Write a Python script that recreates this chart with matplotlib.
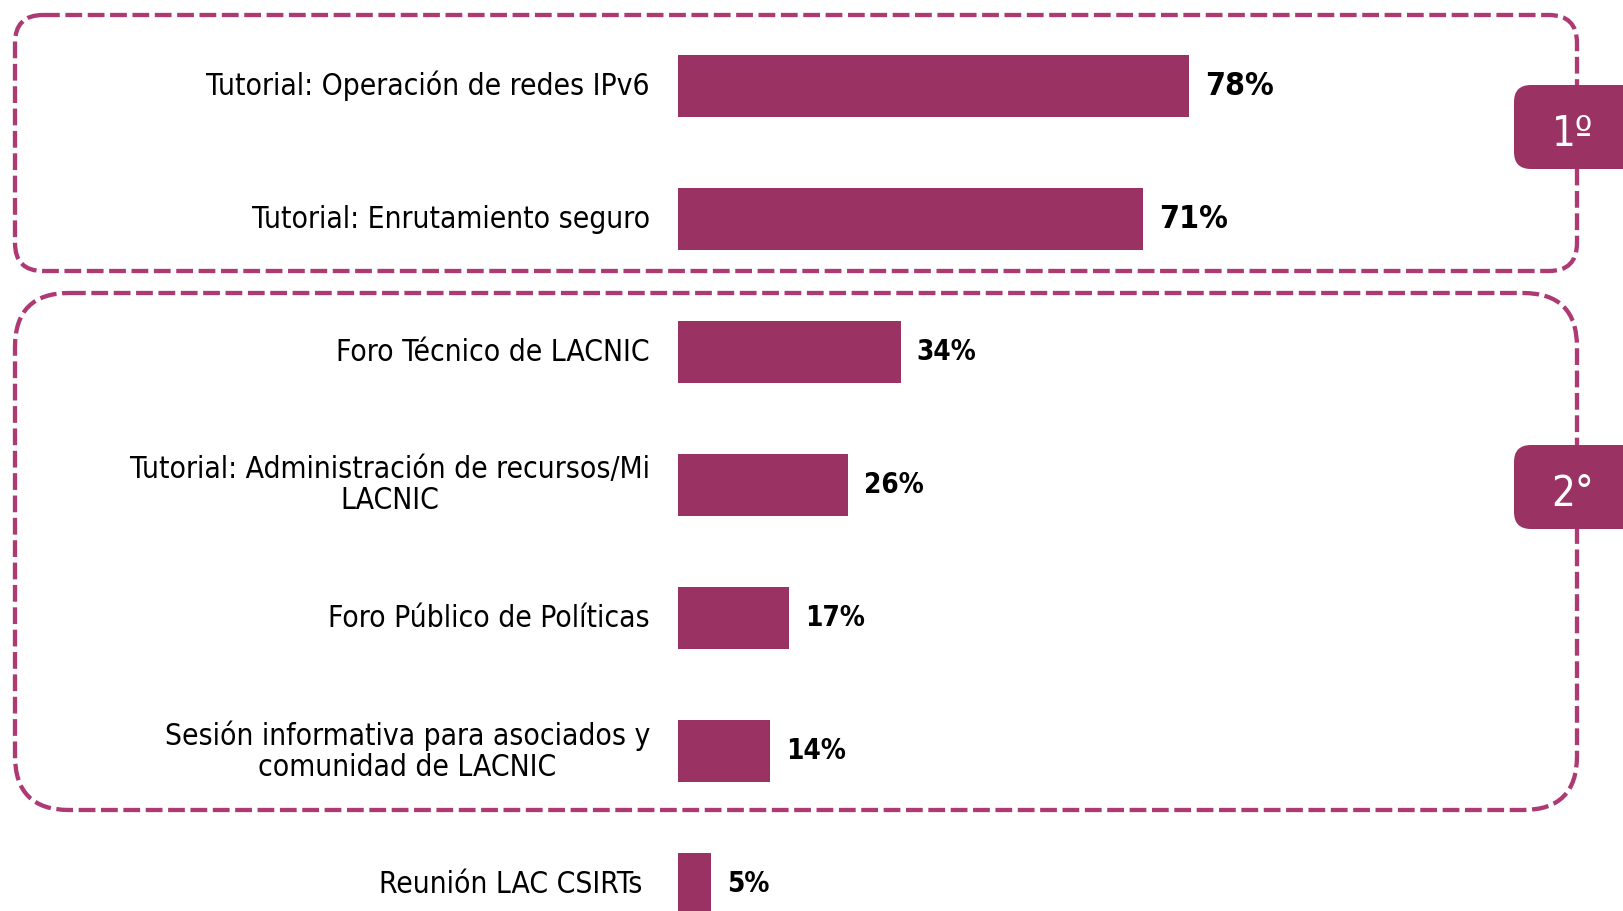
import matplotlib
matplotlib.use("Agg")
import matplotlib.pyplot as plt
from matplotlib import font_manager as fm
from matplotlib.patches import FancyBboxPatch

categories = [
    "Tutorial: Operación de redes IPv6",
    "Tutorial: Enrutamiento seguro",
    "Foro Técnico de LACNIC",
    "Tutorial: Administración de recursos/Mi\nLACNIC",
    "Foro Público de Políticas",
    "Sesión informativa para asociados y\ncomunidad de LACNIC",
    "Reunión LAC CSIRTs",
]
values = [78, 71, 34, 26, 17, 14, 5]
value_labels = ["78%", "71%", "34%", "26%", "17%", "14%", "5%"]
badges = ["1º", "2°"]

BAR = "#9A3363"
DASH = "#AE3A74"

W, H = 1624, 911
fig = plt.figure(figsize=(W / 100, H / 100), dpi=100)


def pick(weight):
    p = fm.findfont(fm.FontProperties(family="DejaVu Sans", weight=weight,
                                      stretch="condensed"))
    if "Condensed" in p:
        return p, 1.0
    return fm.findfont(fm.FontProperties(family="DejaVu Sans", weight=weight)), 0.84


reg_path, reg_scale = pick("normal")
bold_path, bold_scale = pick("bold")
fp_lab = fm.FontProperties(fname=reg_path, size=21.5 * reg_scale)
fp_val = fm.FontProperties(fname=bold_path, size=20 * bold_scale)
fp_val_big = fm.FontProperties(fname=bold_path, size=23 * bold_scale)
fp_badge = fm.FontProperties(fname=reg_path, size=30 * reg_scale)

# overlay for decorative boxes (pixel coordinates)
ov = fig.add_axes([0, 0, 1, 1])
ov.set_xlim(0, W)
ov.set_ylim(H, 0)
ov.axis("off")

lw = 4.3 * 0.72
for (x0, y0, x1, y1, r) in [(15, 15, 1577, 271, 28), (15, 293, 1577, 810, 54)]:
    ov.add_patch(FancyBboxPatch((x0, y0), x1 - x0, y1 - y0,
                                boxstyle="round,pad=0,rounding_size=%d" % r,
                                fill=False, edgecolor=DASH, linewidth=lw,
                                linestyle=(0, (3.9, 1.3)), zorder=1))
for (y0, y1), txt in zip([(85, 169), (445, 529)], badges):
    ov.add_patch(FancyBboxPatch((1514, y0), 160, y1 - y0,
                                boxstyle="round,pad=0,rounding_size=17",
                                facecolor=BAR, edgecolor="none", zorder=3))
    ov.text(1573, (y0 + y1) / 2 + 19, txt, color="white", ha="center",
            va="baseline", fontproperties=fp_badge, zorder=4)

# main bar axes
ax = fig.add_axes([0, 0, 1, 1])
ax.patch.set_alpha(0)
px_per = 6.55
x0px = 678
ax.set_xlim(-x0px / px_per, (W - x0px) / px_per)
y0px, step = 86, 133
ax.set_ylim((H - y0px) / step, -y0px / step)
ax.axis("off")

pos = list(range(len(categories)))
ax.barh(pos, values, height=62 / step, color=BAR, zorder=2)

for i, (cat, v, vl) in enumerate(zip(categories, values, value_labels)):
    gap = 36 if i == len(categories) - 1 else 28
    ax.annotate(cat, xy=(0, i), xytext=(-gap * 0.72, 0), textcoords="offset points",
                ha="right", va="center", multialignment="center",
                fontproperties=fp_lab, color="black", linespacing=1.1)
    ax.annotate(vl, xy=(v, i), xytext=(16 * 0.72, 0), textcoords="offset points",
                ha="left", va="center",
                fontproperties=fp_val_big if i < 2 else fp_val, color="black")

fig.savefig("out.png", dpi=100)
